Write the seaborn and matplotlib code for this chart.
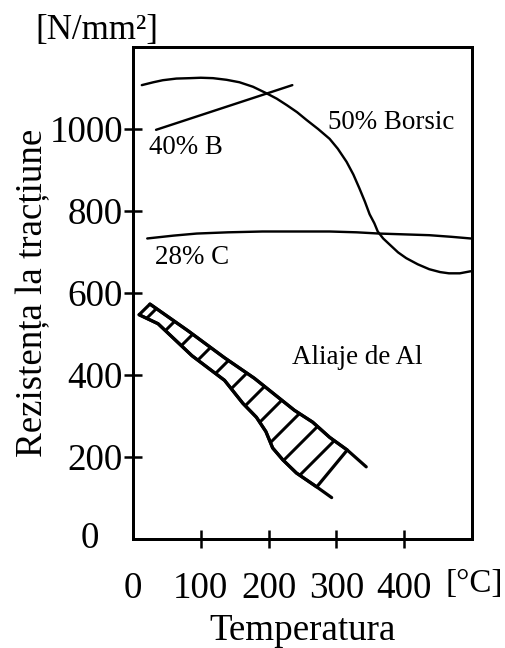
import matplotlib
matplotlib.use("Agg")
import matplotlib.pyplot as plt
import pandas as pd
import seaborn as sns

# Tensile strength (N/mm²) of composites and Al alloys versus temperature (°C)
borsic_t = [13, 30, 44, 64, 84, 100, 118, 138, 157, 177, 197, 212, 227, 242, 256, 273,
            290, 302, 315, 325, 334, 342, 349, 356, 361, 369, 378, 391, 403, 420, 437,
            453, 466, 482, 498]
borsic_r = [1107, 1114, 1119, 1123, 1124, 1125, 1124, 1120, 1114, 1103, 1087, 1074, 1058,
            1041, 1022, 1000, 976, 952, 920, 889, 855, 823, 792, 770, 750, 733, 719, 699,
            685, 670, 658, 651, 648, 648, 653]

boron_t = [34, 235]
boron_r = [998, 1107]

carbon_t = [21, 60, 94, 140, 191, 240, 290, 330, 363, 400, 437, 470, 498]
carbon_r = [733, 740, 745, 748, 750, 750, 750, 748, 745, 743, 741, 737, 733]

# Scatter band of the aluminium alloys: upper and lower bounds
al_upper_t = [25, 81, 135, 179, 238, 265, 290, 316, 344]
al_upper_r = [573, 508, 442, 392, 314, 285, 248, 217, 176]
al_lower_t = [9, 37, 87, 135, 162, 182, 196, 206, 221, 241, 271, 293]
al_lower_r = [547, 525, 447, 387, 331, 297, 262, 222, 193, 161, 127, 101]

x_ticks = [0, 100, 200, 300, 400]
x_labels = ["0", "100", "200", "300", "400"]
y_ticks = [200, 400, 600, 800, 1000]
y_labels = ["200", "400", "600", "800", "1000"]

DPI = 186
PX = 72.0 / DPI  # one pixel in points

sns.set_theme(style="white")
plt.rcParams["font.family"] = ["Liberation Serif", "DejaVu Serif"]
plt.rcParams["hatch.linewidth"] = 3.0 * PX
plt.rcParams["hatch.color"] = "black"

fig = plt.figure(figsize=(506 / DPI, 648 / DPI), dpi=DPI)
ax = fig.add_axes([133 / 506, 1 - 539 / 648, 339 / 506, 492 / 648])

big = 37 * PX
small = 27 * PX
curve_lw = 2.4 * PX
band_lw = 3.2 * PX

def curve(t, r, lw):
    df = pd.DataFrame({"t": t, "r": r})
    sns.lineplot(data=df, x="t", y="r", ax=ax, color="black", linewidth=lw,
                 estimator=None, sort=False)

curve(borsic_t, borsic_r, curve_lw)
curve(boron_t, boron_r, curve_lw)
curve(carbon_t, carbon_r, curve_lw)

# Hatched band (closed between the first and the last hatch line)
band_t = al_upper_t[:-1] + al_lower_t[:-1][::-1]
band_r = al_upper_r[:-1] + al_lower_r[:-1][::-1]
ax.fill(band_t, band_r, facecolor="none", edgecolor="black",
        linewidth=band_lw, hatch="//", joinstyle="round")
curve(al_upper_t, al_upper_r, band_lw)
curve(al_lower_t, al_lower_r, band_lw)

ax.set_xlim(0, 500)
ax.set_ylim(0, 1200)

for side in ["left", "right", "top", "bottom"]:
    ax.spines[side].set_visible(True)
    ax.spines[side].set_color("black")
    ax.spines[side].set_linewidth(3 * PX)

ax.set_xticks(x_ticks, x_labels)
ax.set_yticks(y_ticks, y_labels)
ax.tick_params(axis="both", direction="inout", length=18 * PX, width=2.5 * PX,
               colors="black", labelsize=big, bottom=True, left=True)
ax.tick_params(axis="x", pad=24 * PX)
ax.tick_params(axis="y", pad=1 * PX)
ax.xaxis.get_major_ticks()[0].tick1line.set_visible(False)

# Origin label on the strength axis and the temperature unit
ax.text(-43 / 339, 0, "0", transform=ax.get_yaxis_transform(),
        ha="center", va="center", fontsize=big, color="black")
ax.text(504, -45 / 492, "[°C]", transform=ax.get_xaxis_transform(),
        ha="center", va="center", fontsize=33 * PX, color="black")
fig.text(35 / 506, 1 - 30 / 648, "[N/mm²]", ha="left", va="center",
         fontsize=35 * PX, color="black")

ax.set_xlabel("Temperatura", fontsize=big, color="black")
ax.set_ylabel("Rezistența la tracțiune", fontsize=big, color="black")
ax.xaxis.set_label_coords(0.5, -75 / 492)
ax.yaxis.set_label_coords(-83 / 339, 0.5)

# Curve labels
ax.text(78, 956, "40% B", fontsize=small, ha="center", va="center", color="black")
ax.text(381, 1017, "50% Borsic", fontsize=small, ha="center", va="center", color="black")
ax.text(87, 687, "28% C", fontsize=small, ha="center", va="center", color="black")
ax.text(331, 442, "Aliaje de Al", fontsize=small, ha="center", va="center", color="black")

ax.grid(False)
fig.savefig("out.png", dpi=DPI, facecolor="white")
